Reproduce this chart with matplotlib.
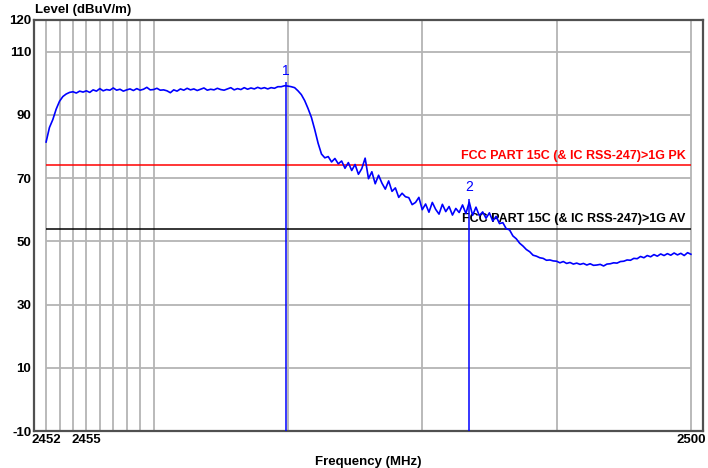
import numpy as np
import matplotlib.pyplot as plt

plt.rcParams['font.family'] = ['Liberation Sans', 'DejaVu Sans']

# measured level, one row per MHz (steps of 0.25 MHz), 2452 .. 2500
level = [
    81.4, 86.0, 88.5, 91.8,
    94.3, 95.8, 96.6, 97.1,
    97.3, 96.9, 97.5, 97.2,
    97.6, 97.1, 97.9, 97.5,
    98.3, 97.6, 98.0, 97.8,
    98.5, 97.8, 98.1, 97.5,
    97.9, 98.2, 97.7, 98.3,
    97.8, 98.1, 98.7, 97.9,
    98.0, 98.4, 97.8, 97.9,
    97.6, 97.0, 97.9, 97.5,
    98.2, 97.8, 98.4, 97.9,
    98.2, 97.7, 98.1, 98.5,
    97.8, 98.1, 97.9, 98.4,
    98.0, 97.8, 98.2, 98.6,
    97.9, 98.3, 98.0, 98.6,
    98.1, 98.5, 98.2, 98.7,
    98.3, 98.6, 98.2, 98.6,
    98.4, 98.9, 98.9, 99.2,
    99.1, 98.9, 98.6, 97.6,
    96.4, 94.5, 92.0, 89.2,
    85.3, 81.0, 77.6, 76.4,
    76.8, 75.1, 76.2, 74.5,
    75.4, 73.1, 74.9, 72.4,
    74.3, 71.2, 73.0, 76.3,
    69.8, 72.0, 68.2, 70.9,
    68.4, 66.5, 69.1, 65.8,
    66.9, 63.9, 65.2, 64.1,
    63.8, 61.6, 62.3, 63.9,
    60.0, 61.8, 59.2, 62.3,
    60.1, 58.6, 61.7, 59.4,
    61.0, 58.3, 60.4, 59.1,
    61.5, 58.8, 62.4, 58.2,
    60.8, 58.1, 59.3, 57.3,
    59.0, 56.4, 57.9, 55.6,
    55.9, 54.0, 53.6, 51.7,
    50.8, 49.4, 48.5, 47.4,
    46.7, 45.6, 45.3, 44.8,
    44.6, 44.0, 44.1, 43.8,
    43.7, 43.2, 43.6, 43.0,
    43.3, 42.8, 43.1, 42.7,
    43.0, 42.5, 42.9, 42.4,
    42.5, 42.7, 42.2, 42.8,
    42.9, 43.2, 43.1, 43.6,
    43.7, 44.1, 44.0, 44.6,
    44.5, 45.2, 44.8, 45.5,
    45.1, 45.8, 45.3, 46.0,
    45.5, 46.1, 45.6, 46.3,
    45.7, 46.2, 45.5, 46.4,
    45.9,
]
freq = np.linspace(2452, 2500, len(level))

f_start, f_stop = 2452, 2500
y_min, y_max = -10, 120

limit_pk = 74
limit_av = 54
limit_pk_label = 'FCC PART 15C (& IC RSS-247)>1G PK'
limit_av_label = 'FCC PART 15C (& IC RSS-247)>1G AV'

marker_freq = [2469.85, 2483.5]
marker_level = [99.3, 62.4]
marker_names = ['1', '2']

xgrid = [2452, 2453, 2454, 2455, 2456, 2457, 2458, 2459, 2460,
         2470, 2480, 2490, 2500]
ygrid = [-10, 10, 30, 50, 70, 90, 110]
xticks = [2452, 2455, 2500]
yticks = [-10, 10, 30, 50, 70, 90, 110, 120]

fig = plt.figure(figsize=(7.08, 4.68), dpi=100)
ax = fig.add_axes([34 / 708, 37 / 468, 669 / 708, 411 / 468])
ax.set_xlim(2451.1, 2500.9)
ax.set_ylim(y_min, y_max)

gcol = '#b4b4b4'
ax.vlines(xgrid, y_min, y_max, color=gcol, lw=1.3, zorder=1)
ax.hlines(ygrid, f_start, f_stop, color=gcol, lw=1.3, zorder=1)

ax.hlines(limit_pk, f_start, f_stop, color='#ff0000', lw=1.1, zorder=2)
ax.hlines(limit_av, f_start, f_stop, color='#000000', lw=1.1, zorder=2)
ax.text(2499.6, limit_pk + 1.2, limit_pk_label, color='#ff0000', fontsize=9,
        fontweight='bold', ha='right', va='bottom', zorder=3)
ax.text(2499.6, limit_av + 1.2, limit_av_label, color='#000000', fontsize=9,
        fontweight='bold', ha='right', va='bottom', zorder=3)

ax.plot(freq, level, color='#0000ff', lw=1.2, zorder=4)

for f, lv, name in zip(marker_freq, marker_level, marker_names):
    ax.vlines(f, y_min, lv + 1, color='#0000ff', lw=1.1, zorder=5)
    ax.text(f, lv + 2.5, name, color='#0000ff', fontsize=10,
            ha='center', va='bottom', zorder=5)

ax.set_xticks(xticks)
ax.set_yticks(yticks)
ax.set_xticklabels([str(t) for t in xticks], fontweight='bold', fontsize=9.5)
ax.set_yticklabels([str(t) for t in yticks], fontweight='bold', fontsize=9.5)
ax.tick_params(length=0, pad=2)

for s in ax.spines.values():
    s.set_color('#505050')
    s.set_linewidth(1.6)

fig.text(35 / 708, 1 - 10 / 468, 'Level (dBuV/m)', fontsize=9.5,
         fontweight='bold', ha='left', va='center')
ax.set_xlabel('Frequency (MHz)', fontsize=9.5, fontweight='bold', labelpad=7)

fig.savefig('out.png', dpi=100)
